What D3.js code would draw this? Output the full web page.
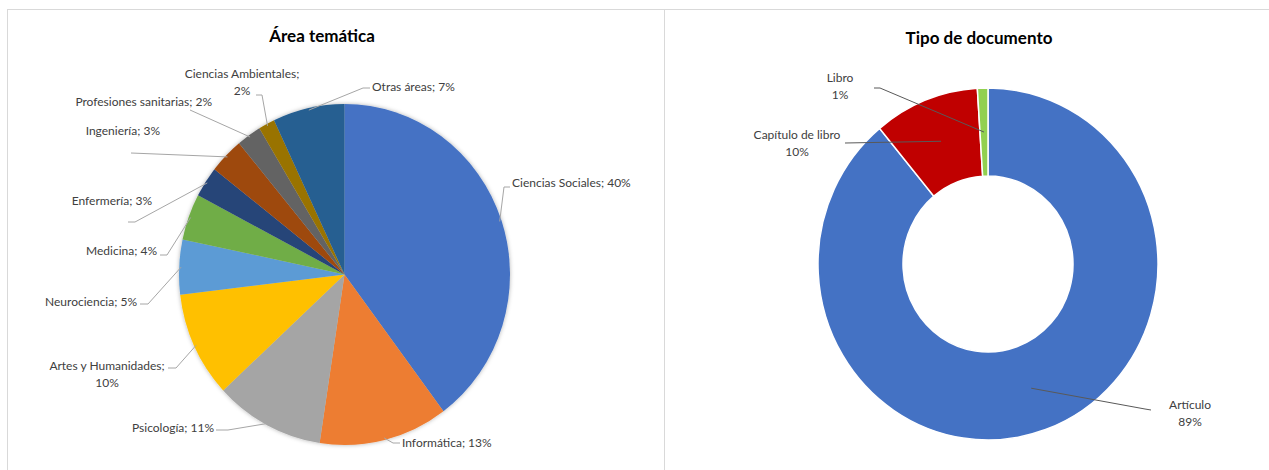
<!DOCTYPE html>
<html>
<head>
<meta charset="utf-8">
<script src="https://cdn.jsdelivr.net/npm/d3@7"></script>
<style>
  body { margin: 0; background: #fff; }
  text { font-family: Lato, "Open Sans", sans-serif; fill: #404040; }
</style>
</head>
<body>
<div id="chart"></div>
<script>
// data (shares, labels show them rounded)
var areaNames = ["Ciencias Sociales", "Informática", "Psicología", "Artes y Humanidades",
  "Neurociencia", "Medicina", "Enfermería", "Ingeniería", "Profesiones  sanitarias",
  "Ciencias Ambientales", "Otras áreas"];
var areaValues = [39.8, 12.6, 10.7, 10.0, 5.2, 4.4, 2.9, 3.4, 2.4, 1.6, 7.0];
var areaColors = ["#4472C4", "#ED7D31", "#A5A5A5", "#FFC000", "#5B9BD5", "#70AD47",
  "#264478", "#9E480E", "#636363", "#997300", "#255E91"];

var docNames = ["Artículo", "Capítulo  de libro", "Libro"];
var docValues = [89, 10, 1];
var docColors = ["#4472C4", "#C00000", "#92D050"];

// label layout (text position + leader end points), same order as the data
var areaLabels = [
  {x: 512, y: 187, anchor: "start", lines: 1, pts: [[504, 187], [510, 187]]},
  {x: 402, y: 447, anchor: "start", lines: 1, pts: [[393, 443], [400, 443]]},
  {x: 214, y: 432, anchor: "end", lines: 1, pts: [[228, 430], [216, 430]]},
  {x: 107, y: 370, anchor: "middle", lines: 2, pts: [[176, 368], [168, 368]]},
  {x: 137, y: 306, anchor: "end", lines: 1, pts: [[148, 304], [140, 304]]},
  {x: 157, y: 255, anchor: "end", lines: 1, pts: [[167, 255], [160, 255]]},
  {x: 152, y: 205, anchor: "end", lines: 1, pts: [[135, 222], [128, 222]]},
  {x: 160, y: 135, anchor: "end", lines: 1, pts: [[131, 153]]},
  {x: 212, y: 106, anchor: "end", lines: 1, pts: [[190, 110]]},
  {x: 242, y: 78, anchor: "middle", lines: 2, pts: [[262, 95], [256, 95]]},
  {x: 372, y: 91, anchor: "start", lines: 1, pts: [[363, 88], [370, 88]]}
];
var docLabels = [
  {x: 1190, y: 409, pts: [[1145, 409], [1151, 410]]},
  {x: 797, y: 139, pts: [[845, 143]]},
  {x: 840, y: 82, pts: [[880, 88], [874, 88]]}
];

var W = 1269, H = 470;
var svg = d3.select("#chart").append("svg")
    .attr("width", W)
    .attr("height", H);

var defs = svg.append("defs");
var f = defs.append("filter").attr("id", "shadow")
    .attr("x", "-10%").attr("y", "-10%").attr("width", "120%").attr("height", "120%");
f.append("feDropShadow").attr("dx", 0).attr("dy", 0).attr("stdDeviation", 2)
    .attr("flood-color", "#000").attr("flood-opacity", 0.3);

// panel frames
svg.append("rect").attr("x", 7.5).attr("y", 9.5).attr("width", 657).attr("height", 480)
    .attr("fill", "none").attr("stroke", "#d9d9d9");
svg.append("rect").attr("x", 664.5).attr("y", 9.5).attr("width", 620).attr("height", 480)
    .attr("fill", "none").attr("stroke", "#d9d9d9");

// titles
svg.append("text").attr("x", 322).attr("y", 42).attr("text-anchor", "middle")
    .style("font-weight", "bold").style("font-size", "17px").style("fill", "#000")
    .text("Área temática");
svg.append("text").attr("x", 979).attr("y", 44).attr("text-anchor", "middle")
    .style("font-weight", "bold").style("font-size", "17px").style("fill", "#000")
    .text("Tipo de documento");

// maps a point at angle a, radius r into the (slightly stretched) pie frame
function polar(cx, cy, sy, a, r) {
  return [cx + r * Math.sin(a), cy - r * Math.cos(a) * sy];
}

// ---- left pie ----
var cx1 = 344.5, cy1 = 274.5, r1 = 165.5, sy1 = 170.5 / 165.5;
var pie = d3.pie().sort(null).value(function(d) { return d; });
var arcsA = pie(areaValues);
var arc1 = d3.arc().innerRadius(0).outerRadius(r1);

var g1 = svg.append("g")
    .attr("transform", "translate(" + cx1 + "," + cy1 + ") scale(1," + sy1 + ")");
g1.append("g").attr("filter", "url(#shadow)")
  .selectAll("path")
  .data(arcsA)
  .enter()
  .append("path")
  .attr("d", arc1)
  .attr("fill", function(d, i) { return areaColors[i]; });

arcsA.forEach(function(d, i) {
  var lab = areaLabels[i];
  var mid = (d.startAngle + d.endAngle) / 2;
  var p = [polar(cx1, cy1, sy1, mid, r1 - 2)].concat(lab.pts);
  svg.append("path")
      .attr("d", d3.line()(p))
      .attr("fill", "none")
      .attr("stroke", "#a6a6a6")
      .attr("stroke-width", 1);

  var pct = Math.round(areaValues[i]) + "%";
  var txt = svg.append("text")
      .attr("x", lab.x).attr("y", lab.y)
      .attr("text-anchor", lab.anchor)
      .style("font-size", "12px");
  if (lab.lines == 2) {
    txt.append("tspan").attr("x", lab.x).text(areaNames[i] + ";");
    txt.append("tspan").attr("x", lab.x).attr("dy", 17).text(pct);
  } else {
    txt.text(areaNames[i] + "; " + pct);
  }
});

// ---- right donut ----
var cx2 = 988, cy2 = 264, r2 = 170, sy2 = 176 / 170;
var arcsD = pie(docValues);
var arc2 = d3.arc().innerRadius(r2 * 0.5).outerRadius(r2);

var g2 = svg.append("g")
    .attr("transform", "translate(" + cx2 + "," + cy2 + ") scale(1," + sy2 + ")");
g2.selectAll("path")
  .data(arcsD)
  .enter()
  .append("path")
  .attr("d", arc2)
  .attr("fill", function(d, i) { return docColors[i]; })
  .attr("stroke", "#fff")
  .attr("stroke-width", 1.5);

arcsD.forEach(function(d, i) {
  var lab = docLabels[i];
  var mid = (d.startAngle + d.endAngle) / 2;
  var p = [polar(cx2, cy2, sy2, mid, r2 * 0.75)].concat(lab.pts);
  svg.append("path")
      .attr("d", d3.line()(p))
      .attr("fill", "none")
      .attr("stroke", "#595959")
      .attr("stroke-width", 1);

  var txt = svg.append("text")
      .attr("x", lab.x).attr("y", lab.y)
      .attr("text-anchor", "middle")
      .style("font-size", "12px");
  txt.append("tspan").attr("x", lab.x).text(docNames[i]);
  txt.append("tspan").attr("x", lab.x).attr("dy", 17).text(docValues[i] + "%");
});
</script>
</body>
</html>
